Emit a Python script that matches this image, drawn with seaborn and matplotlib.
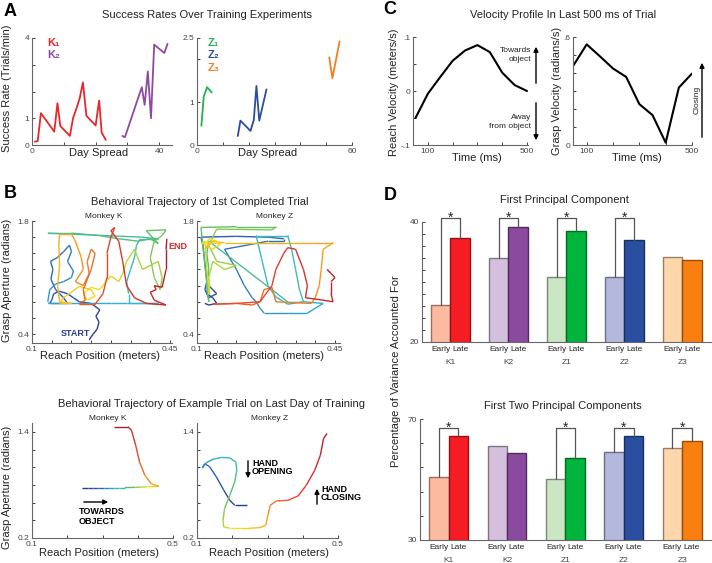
import numpy as np
import pandas as pd
import matplotlib
matplotlib.use('Agg')
import matplotlib.pyplot as plt
import seaborn as sns
from matplotlib.collections import LineCollection
from matplotlib.colors import LinearSegmentedColormap, to_rgb
from matplotlib.patches import FancyArrowPatch

W, H = 712, 563

# -- A: success rates (day, trials/min) --
k1_day = [0.9, 1.8, 2.8, 7.0, 8.0, 8.9, 11.9, 12.9, 14.0, 15.0, 16.0, 17.1, 20.0, 21.1, 21.9, 23.2]
k1_rate = [0.12, 0.15, 1.19, 0.5, 1.56, 0.71, 0.34, 1.0, 1.38, 1.75, 2.34, 1.09, 0.73, 1.66, 0.46, 0.19]
k2_day = [28.4, 29.2, 34.5, 35.4, 36.4, 37.4, 38.4, 41.6, 42.6]
k2_rate = [0.34, 0.29, 2.16, 1.5, 2.75, 1.0, 3.75, 3.44, 3.78]
z1_day = [1.7, 2.6, 3.9, 5.7]
z1_rate = [0.45, 1.13, 1.35, 1.23]
z2_day = [15.8, 16.8, 20.7, 22.0, 23.0, 24.1, 26.9]
z2_rate = [0.21, 0.57, 0.33, 0.59, 1.38, 0.57, 1.30]
z3_day = [51.2, 52.4, 55.2]
z3_rate = [2.05, 1.56, 2.42]

# -- C: velocity profiles --
c_time = [50, 100, 150, 200, 250, 300, 350, 400, 450, 500]
reach_vel = [-0.05, -0.005, 0.026, 0.056, 0.075, 0.085, 0.072, 0.034, 0.011, 0.0]
grasp_vel = [0.443, 0.559, 0.493, 0.425, 0.378, 0.227, 0.166, 0.013, 0.319, 0.397]

# -- B: trajectories (reach position m, grasp aperture rad), in time order --
traj_k_x = [0.245, 0.255, 0.265, 0.27, 0.262, 0.272, 0.25, 0.22, 0.205, 0.19, 0.17, 0.155, 0.15, 0.145, 0.19,
            0.18, 0.16, 0.148, 0.153, 0.147, 0.165, 0.18, 0.195, 0.2, 0.19, 0.205, 0.2, 0.18, 0.16, 0.145, 0.14,
            0.14, 0.2, 0.26, 0.3, 0.34, 0.38, 0.42,
            0.345, 0.345, 0.34, 0.35, 0.36, 0.365, 0.375, 0.42, 0.38, 0.14,
            0.2, 0.27, 0.32, 0.37, 0.40, 0.42,
            0.39, 0.44, 0.43, 0.41, 0.40, 0.41, 0.425, 0.43, 0.42, 0.38, 0.36, 0.34, 0.33, 0.32, 0.30, 0.28, 0.27,
            0.25, 0.23, 0.24, 0.26, 0.25, 0.22, 0.18, 0.17, 0.2, 0.17, 0.165, 0.17, 0.168, 0.17, 0.2, 0.21, 0.225,
            0.23, 0.21,
            0.23, 0.245, 0.24, 0.25, 0.26, 0.25, 0.23, 0.235, 0.22, 0.26, 0.28, 0.29, 0.29, 0.3, 0.31, 0.3, 0.32,
            0.33, 0.34, 0.36, 0.39, 0.44, 0.41, 0.40, 0.415, 0.41, 0.43, 0.44, 0.44, 0.442]
traj_k_y = [0.33, 0.40, 0.46, 0.55, 0.62, 0.70, 0.78, 0.80, 0.85, 0.90, 0.93, 0.90, 0.82, 0.78, 0.78,
            0.85, 0.95, 1.08, 1.20, 1.30, 1.35, 1.42, 1.50, 1.42, 1.30, 1.18, 1.10, 1.05, 1.02, 0.95, 0.80,
            0.78, 0.78, 0.78, 0.78, 0.78, 0.78, 0.78,
            0.78, 0.90, 1.05, 1.20, 1.35, 1.50, 1.58, 1.58, 1.60, 1.65,
            1.65, 1.62, 1.58, 1.55, 1.58, 1.52,
            1.68, 1.69, 1.62, 1.55, 1.35, 1.10, 0.95, 1.10, 1.30, 1.20, 1.45, 1.30, 1.15, 1.05, 1.12, 1.0, 0.95,
            0.98, 0.90, 0.82, 0.87, 0.95, 0.99, 0.85, 0.78, 0.78, 0.80, 1.0, 1.25, 1.50, 1.64, 1.64, 1.55, 1.35,
            1.20, 1.05,
            1.0, 1.15, 1.30, 1.45, 1.40, 1.20, 0.95, 0.82, 0.77, 0.77, 0.90, 1.10, 1.40, 1.60, 1.72, 1.68, 1.55,
            1.30, 1.0, 0.85, 0.78, 0.76, 0.82, 0.92, 0.95, 1.0, 0.98, 1.20, 1.45, 1.58]

traj_z_x = [0.12, 0.13, 0.15, 0.14, 0.125, 0.13, 0.14, 0.15, 0.13, 0.12, 0.125, 0.115, 0.11, 0.2, 0.28, 0.32,
            0.32, 0.28, 0.17, 0.2, 0.22, 0.24, 0.25, 0.26, 0.27, 0.33, 0.38, 0.4, 0.42, 0.37, 0.33, 0.3, 0.28,
            0.25, 0.33, 0.34, 0.35, 0.36, 0.37, 0.33, 0.13, 0.125, 0.13, 0.125, 0.13,
            0.11, 0.2, 0.3, 0.29, 0.15, 0.13, 0.15, 0.2, 0.17, 0.14, 0.13, 0.13,
            0.12, 0.11, 0.15, 0.13, 0.12, 0.14, 0.16, 0.13, 0.12, 0.14, 0.17,
            0.2, 0.3, 0.4, 0.445, 0.42, 0.415, 0.41, 0.4, 0.39, 0.3, 0.29, 0.27, 0.26,
            0.24, 0.2, 0.14, 0.2, 0.26, 0.29, 0.3, 0.32, 0.33, 0.35, 0.37, 0.38, 0.375, 0.42, 0.445, 0.44, 0.44,
            0.45, 0.44, 0.43]
traj_z_y = [0.78, 0.76, 0.78, 0.85, 0.90, 1.0, 0.95, 0.90, 0.85, 0.95, 1.05, 1.5, 1.6, 1.61, 1.60, 1.58,
            1.55, 1.55, 1.45, 1.2, 1.0, 0.85, 0.8, 0.72, 0.66, 0.66, 0.66, 0.72, 0.78, 0.8, 0.77, 0.86, 1.0,
            1.62, 1.62, 1.45, 1.2, 0.95, 0.8, 0.8, 1.55, 1.4, 1.2, 0.95, 0.8,
            1.72, 1.73, 1.73, 1.69, 1.70, 1.5, 1.3, 1.25, 1.2, 1.3, 1.1, 0.9,
            1.55, 1.52, 1.55, 1.58, 1.5, 1.45, 1.52, 1.53, 1.45, 1.55, 1.53,
            1.53, 1.53, 1.53, 1.53, 1.45, 1.2, 1.0, 0.85, 0.78, 0.8, 0.98, 0.95, 0.8,
            0.76, 0.78, 0.77, 0.78, 0.8, 1.0, 1.2, 1.4, 1.47, 1.45, 1.2, 1.0, 0.85, 0.82, 0.8, 0.9, 1.05,
            1.1, 1.15, 1.2]

last_k_x = [0.243, 0.258, 0.273, 0.288, 0.303, 0.318, 0.333, 0.348, 0.363, 0.378, 0.393, 0.408, 0.423, 0.438,
            0.46, 0.438, 0.42, 0.405, 0.394, 0.382, 0.372, 0.334]
last_k_y = [0.77, 0.77, 0.77, 0.77, 0.77, 0.77, 0.77, 0.77, 0.77, 0.771, 0.772, 0.775, 0.778, 0.781,
            0.785, 0.815, 0.91, 1.06, 1.25, 1.42, 1.457, 1.457]
last_z_x = [0.242, 0.207, 0.193, 0.176, 0.155, 0.136, 0.122, 0.115, 0.126, 0.145, 0.169, 0.193, 0.21, 0.213,
            0.207, 0.193, 0.178, 0.174, 0.176, 0.193, 0.221, 0.249, 0.278, 0.295, 0.301, 0.308, 0.325, 0.358,
            0.387, 0.41, 0.434, 0.45, 0.459, 0.469]
last_z_y = [0.57, 0.57, 0.626, 0.74, 0.89, 1.004, 1.04, 0.99, 1.05, 1.09, 1.11, 1.106, 1.06, 0.966,
            0.834, 0.683, 0.53, 0.40, 0.325, 0.31, 0.31, 0.31, 0.317, 0.343, 0.457, 0.57, 0.619, 0.626,
            0.676, 0.796, 0.966, 1.136, 1.325, 1.38]

# -- D: variance accounted for (%) --
groups = ['K1', 'K2', 'Z1', 'Z2', 'Z3']
phases = ['Early', 'Late']
pc1_early = [26.1, 34.0, 30.9, 30.8, 34.25]
pc1_late = [37.35, 39.2, 38.5, 37.0, 33.75]
pc2_early = [50.8, 61.2, 50.1, 59.1, 60.5]
pc2_late = [64.4, 58.7, 57.1, 64.5, 62.8]
pc1_sig = [True, True, True, True, False]
pc2_sig = [True, False, True, True, True]
early_colors = ['#fcbba1', '#d4bfdd', '#cbe6c3', '#b4b8dc', '#fdd6ac']
late_colors = ['#f51c24', '#8a4a9e', '#00b43c', '#2a4fa0', '#f98010']
a_colors = {'K1': '#e8262c', 'K2': '#8e4aa0', 'Z1': '#1fb34a', 'Z2': '#2a4d9c', 'Z3': '#f57f20'}

sns.set_style('ticks')
plt.rcParams['font.family'] = ['Liberation Sans', 'DejaVu Sans']

traj_cmap = LinearSegmentedColormap.from_list('traj', [
    (0.0, '#2a3b94'), (0.15, '#3066b8'), (0.3, '#2fb8d8'), (0.45, '#5cc06a'),
    (0.6, '#f2e21c'), (0.72, '#f7a21e'), (0.85, '#e8482a'), (1.0, '#b01c2c')])

LABEL = 8
TITLE = 8

fig = plt.figure(figsize=(W / 100, H / 100), dpi=100)


def add_ax(x0, y0, x1, y1):
    ax = fig.add_axes([x0 / W, 1 - y1 / H, (x1 - x0) / W, (y1 - y0) / H])
    sns.despine(ax=ax)
    ax.tick_params(direction='in', length=2.5, width=0.7, labelsize=6, colors='#444444', pad=2)
    for s in ('left', 'bottom'):
        ax.spines[s].set_color('#666666')
        ax.spines[s].set_linewidth(0.8)
    return ax


def label(x, y, s, size=LABEL, rot=0, ha='center', va='center', **kw):
    fig.text(x / W, 1 - y / H, s, fontsize=size, rotation=rot, ha=ha, va=va, color=kw.pop('color', '#222222'), **kw)


def arrow(x0, y0, x1, y1):
    fig.add_artist(FancyArrowPatch((x0 / W, 1 - y0 / H), (x1 / W, 1 - y1 / H), transform=fig.transFigure,
                                   arrowstyle='-|>', mutation_scale=7, lw=1, color='k'))


def set_ticks(ax, xt, xl, yt, yl):
    ax.set_xticks(xt)
    ax.set_xticklabels(xl)
    ax.set_yticks(yt)
    ax.set_yticklabels(yl)


def draw_traj(ax, xs, ys):
    pts = np.column_stack([xs, ys])
    segs = np.stack([pts[:-1], pts[1:]], axis=1)
    lc = LineCollection(segs, cmap=traj_cmap, norm=plt.Normalize(0, 1), lw=1)
    lc.set_array(np.linspace(0, 1, len(segs)))
    ax.add_collection(lc)


# ---------------- Panel A ----------------
label(10, 11, 'A', size=13, weight='bold', color='k')
label(207, 15, 'Success Rates Over Training Experiments', size=TITLE)
ax = add_ax(32, 38, 172, 145)
sns.lineplot(x=k1_day, y=k1_rate, ax=ax, color=a_colors['K1'], lw=1.3, sort=False, estimator=None)
sns.lineplot(x=k2_day, y=k2_rate, ax=ax, color=a_colors['K2'], lw=1.3, sort=False, estimator=None)
ax.set_xlim(0, 44)
ax.set_ylim(0, 4)
set_ticks(ax, [0, 10, 20, 30, 40], ['0', '', '', '', '40'], [0, 1, 2, 3, 4], ['0', '1', '', '', '4'])
ax.text(0.11, 0.955, 'K\u2081', transform=ax.transAxes, color=a_colors['K1'], fontsize=8, weight='bold', va='center')
ax.text(0.11, 0.84, 'K\u2082', transform=ax.transAxes, color=a_colors['K2'], fontsize=8, weight='bold', va='center')
ax = add_ax(197, 38, 352, 145)
for key, d, r in [('Z1', z1_day, z1_rate), ('Z2', z2_day, z2_rate), ('Z3', z3_day, z3_rate)]:
    sns.lineplot(x=d, y=r, ax=ax, color=a_colors[key], lw=1.3, sort=False, estimator=None)
ax.set_xlim(0, 60)
ax.set_ylim(0, 2.5)
set_ticks(ax, [0, 10, 20, 30, 40, 50, 60], ['0', '', '', '', '', '', '60'], [0, 1, 2, 2.5], ['0', '1', '', '2.5'])
for i, key in enumerate(['Z1', 'Z2', 'Z3']):
    ax.text(0.07, 0.955 - 0.117 * i, 'Z' + '\u2081\u2082\u2083'[i], transform=ax.transAxes, color=a_colors[key],
            fontsize=8, weight='bold', va='center')
label(99, 153, 'Day Spread')
label(268, 153, 'Day Spread')
label(7, 88, 'Success Rate (Trials/min)', rot=90)

# ---------------- Panel C ----------------
label(390, 9, 'C', size=13, weight='bold', color='k')
label(563, 15, 'Velocity Profile In Last 500 ms of Trial', size=TITLE)
ax = add_ax(413, 37, 528, 145)
sns.lineplot(x=c_time, y=reach_vel, ax=ax, color='k', lw=1.5, sort=False, estimator=None)
ax.set_xlim(40, 504)
ax.set_ylim(-0.1, 0.1)
set_ticks(ax, [100, 200, 300, 400, 500], ['100', '', '', '', '500'],
          [-0.1, -0.05, 0, 0.05, 0.1], ['-.1', '', '0', '', '.1'])
ax = add_ax(573, 37, 692, 145)
sns.lineplot(x=c_time, y=grasp_vel, ax=ax, color='k', lw=1.5, sort=False, estimator=None)
ax.set_xlim(48, 500)
ax.set_ylim(0, 0.6)
set_ticks(ax, [100, 200, 300, 400, 500], ['100', '', '', '', '500'],
          [0, 0.1, 0.2, 0.3, 0.4, 0.5, 0.6], ['0', '', '', '', '', '', '.6'])
label(477, 158, 'Time (ms)')
label(637, 158, 'Time (ms)')
label(394, 92, 'Reach Velocity (meters/s)', rot=90)
label(557, 91, 'Grasp Velocity (radians/s)', rot=90)
label(531, 55, 'Towards\nobject', size=6, ha='right', linespacing=1.5)
label(531, 122, 'Away\nfrom object', size=6, ha='right', linespacing=1.5)
label(697, 100, 'Closing', size=6, rot=90)
arrow(536, 86, 536, 44)
arrow(536, 100, 536, 143)
arrow(702, 140, 702, 60)

# ---------------- Panel B ----------------
label(10, 194, 'B', size=13, weight='bold', color='k')
label(200, 202, 'Behavioral Trajectory of 1st Completed Trial', size=TITLE)
label(104, 216, 'Monkey K', size=6)
label(275, 216, 'Monkey Z', size=6)
for (x0, x1, xs, ys) in [(32, 172, traj_k_x, traj_k_y), (197, 340, traj_z_x, traj_z_y)]:
    ax = add_ax(x0, 221, x1, 343)
    draw_traj(ax, xs, ys)
    ax.set_xlim(0.1, 0.1 + 0.35 * (x1 - x0) / 138)
    ax.set_ylim(0.29, 1.8)
    set_ticks(ax, [0.1, 0.15, 0.2, 0.25, 0.3, 0.35, 0.4, 0.45], ['0.1', '', '', '', '', '', '', '0.45'],
              [0.4, 0.6, 0.8, 1.0, 1.2, 1.4, 1.6, 1.8], ['0.4', '', '', '', '', '', '', '1.8'])
    if xs is traj_k_x:
        ax.text(0.21, 0.41, 'START', color='#2a3b94', fontsize=6.5, weight='bold', ha='center', va='center')
        ax.text(0.447, 1.48, 'END', color='#d42a2a', fontsize=6.5, weight='bold', ha='left', va='center',
                clip_on=False)
label(100, 356, 'Reach Position (meters)')
label(264, 356, 'Reach Position (meters)')
label(7, 280, 'Grasp Aperture (radians)', rot=90)

label(212, 404, 'Behavioral Trajectory of Example Trial on Last Day of Training', size=TITLE)
label(108, 418, 'Monkey K', size=6)
label(270, 418, 'Monkey Z', size=6)
for (x0, x1, xs, ys) in [(32, 173, last_k_x, last_k_y), (197, 338, last_z_x, last_z_y)]:
    ax = add_ax(x0, 423, x1, 538)
    draw_traj(ax, xs, ys)
    ax.set_xlim(0.1, 0.5)
    ax.set_ylim(0.2, 1.5)
    set_ticks(ax, [0.1, 0.2, 0.3, 0.4, 0.5], ['0.1', '', '', '', '0.5'],
              [0.2, 0.4, 0.6, 0.8, 1.0, 1.2, 1.4], ['0.2', '', '', '', '', '', '1.4'])
label(99, 553, 'Reach Position (meters)')
label(269, 553, 'Reach Position (meters)')
label(7, 487, 'Grasp Aperture (radians)', rot=90)
arrow(81, 502, 111, 502)
label(79, 512, 'TOWARDS', size=6.5, weight='bold', ha='left', color='k')
label(79, 521, 'OBJECT', size=6.5, weight='bold', ha='left', color='k')
arrow(248, 458, 248, 481)
label(252, 463, 'HAND', size=6.5, weight='bold', ha='left', color='k')
label(252, 472, 'OPENING', size=6.5, weight='bold', ha='left', color='k')
arrow(317, 507, 317, 486)
label(321, 489, 'HAND', size=6.5, weight='bold', ha='left', color='k')
label(321, 498, 'CLOSING', size=6.5, weight='bold', ha='left', color='k')

# ---------------- Panel D ----------------
label(390, 196, 'D', size=13, weight='bold', color='k')
label(564, 200, 'First Principal Component', size=TITLE)
label(563, 406, 'First Two Principal Components', size=TITLE)
label(396, 371, 'Percentage of Variance Accounted For', rot=90)


def bar_panel(box, early, late, sig, ylim, yt, yl, bracket_y):
    ax = add_ax(*box)
    df = pd.DataFrame({'group': groups * 2, 'phase': ['Early'] * 5 + ['Late'] * 5, 'value': early + late})
    sns.barplot(data=df, x='group', y='value', hue='phase', hue_order=phases, width=0.667, ax=ax,
                legend=False, linewidth=1)
    for p in ax.patches:
        cx = p.get_x() + p.get_width() / 2
        g = int(round(cx))
        c = early_colors[g] if cx < g else late_colors[g]
        p.set_facecolor(c)
        p.set_edgecolor(tuple(0.6 * v for v in to_rgb(c)))
    ax.set_xlim(-0.49, 4.51)
    ax.set_ylim(*ylim)
    ax.set_yticks(yt)
    ax.set_yticklabels(yl)
    ax.set_xticks(range(5))
    ax.set_xticklabels(groups)
    ax.set_xticks([g + s for g in range(5) for s in (-1 / 6, 1 / 6)], minor=True)
    ax.set_xticklabels(phases * 5, minor=True)
    ax.tick_params(axis='x', which='both', length=0, labelsize=6)
    ax.tick_params(axis='x', which='major', pad=12)
    ax.tick_params(axis='x', which='minor', pad=3)
    ax.set_xlabel('')
    ax.set_ylabel('')
    for g in range(5):
        if sig[g]:
            xl, xr = g - 1 / 6, g + 1 / 6
            ax.plot([xl, xl, xr, xr], [early[g], bracket_y, bracket_y, late[g]], color='#555555', lw=0.9,
                    clip_on=False)
            ax.annotate('*', xy=(g, bracket_y), xytext=(0, -2.5), textcoords='offset points',
                        ha='center', va='baseline', fontsize=10, annotation_clip=False)
    return ax


bar_panel((422, 222, 712, 342), pc1_early, pc1_late, pc1_sig, (20, 40), list(range(20, 41, 2)),
          ['20'] + [''] * 9 + ['40'], 40.6)
bar_panel((420, 419, 712, 540), pc2_early, pc2_late, pc2_sig, (30, 70), list(range(30, 71, 8)),
          ['30', '', '', '', '', '70'], 67.0)

fig.savefig('out.png', dpi=100)
